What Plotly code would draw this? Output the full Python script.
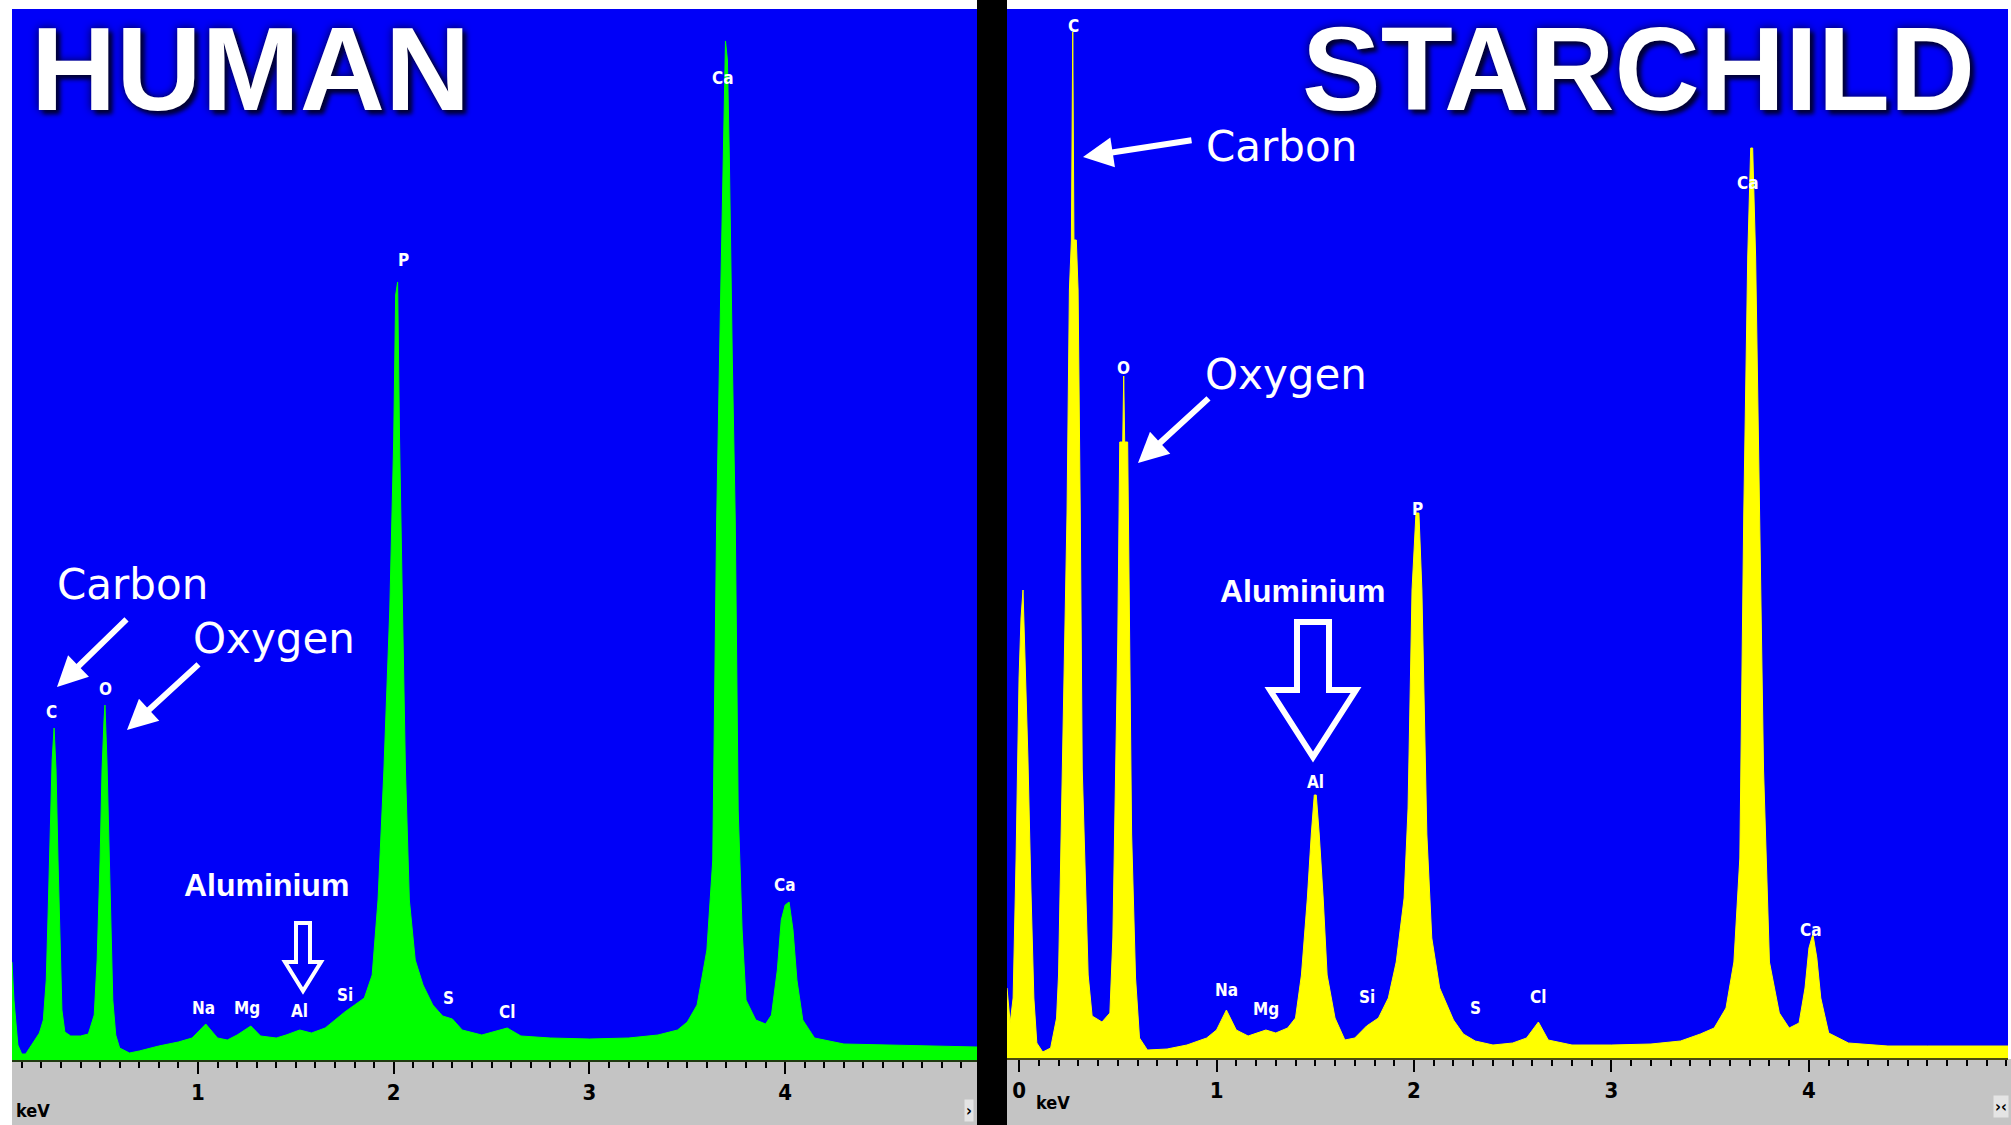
import plotly.graph_objects as go

# ---------------- data ----------------
# HUMAN spectrum (energy keV, counts)
HUMAN_KEV = [0.05, 0.06, 0.08, 0.10, 0.12, 0.15, 0.19, 0.21, 0.225, 0.235, 0.245, 0.255, 0.265, 0.275,
             0.285, 0.295, 0.305, 0.32, 0.35, 0.40, 0.44, 0.47, 0.485, 0.50, 0.51, 0.52, 0.525, 0.535,
             0.545, 0.555, 0.565, 0.58, 0.60, 0.65, 0.70, 0.80, 0.90, 0.97, 1.04, 1.10, 1.15, 1.20,
             1.27, 1.32, 1.40, 1.45, 1.52, 1.58, 1.65, 1.70, 1.75, 1.80, 1.85, 1.89, 1.92, 1.95, 1.98,
             2.00, 2.01, 2.02, 2.03, 2.045, 2.06, 2.08, 2.11, 2.15, 2.20, 2.25, 2.30, 2.35, 2.45, 2.58,
             2.65, 2.80, 3.00, 3.20, 3.35, 3.45, 3.50, 3.55, 3.60, 3.63, 3.65, 3.67, 3.685, 3.695, 3.705,
             3.715, 3.73, 3.745, 3.76, 3.78, 3.80, 3.85, 3.90, 3.93, 3.96, 3.98, 4.00, 4.02, 4.04, 4.06,
             4.09, 4.15, 4.30, 4.50, 4.70, 4.98]
HUMAN_COUNTS = [98, 60, 15, 6, 6, 15, 27, 40, 80, 150, 240, 300, 332, 290,
                200, 110, 50, 28, 24, 24, 26, 45, 100, 200, 290, 340, 355, 300,
                210, 120, 60, 25, 12, 7, 9, 14, 18, 22, 36, 22, 20, 25,
                34, 24, 22, 25, 30, 27, 32, 40, 48, 55, 62, 85, 160, 290, 450,
                620, 765, 778, 620, 450, 290, 160, 100, 75, 55, 44, 41, 30, 25, 32,
                24, 22, 21, 22, 25, 30, 38, 55, 110, 200, 540, 760, 930, 1019, 1000,
                900, 700, 540, 250, 130, 60, 40, 36, 45, 90, 140, 155, 158, 130, 80,
                40, 22, 16, 15, 14, 13]

# STARCHILD spectrum (energy keV, counts)
STAR_KEV = [-0.061, -0.045, -0.03, -0.015, 0.0, 0.01, 0.02, 0.03, 0.045, 0.06, 0.075, 0.09, 0.12, 0.16,
            0.19, 0.20, 0.22, 0.243, 0.255, 0.265, 0.272, 0.278, 0.29, 0.299, 0.31, 0.32, 0.35, 0.37,
            0.42, 0.46, 0.475, 0.485, 0.50, 0.51, 0.525, 0.53, 0.535, 0.55, 0.56, 0.57, 0.59, 0.61,
            0.65, 0.75, 0.85, 0.95, 1.00, 1.05, 1.10, 1.16, 1.25, 1.30, 1.36, 1.40, 1.43, 1.46, 1.48,
            1.495, 1.505, 1.52, 1.54, 1.56, 1.60, 1.65, 1.70, 1.76, 1.82, 1.87, 1.91, 1.95, 1.97, 1.98,
            1.99, 2.01, 2.025, 2.04, 2.05, 2.065, 2.09, 2.13, 2.20, 2.25, 2.31, 2.40, 2.50, 2.57, 2.63,
            2.68, 2.80, 3.00, 3.20, 3.35, 3.45, 3.52, 3.58, 3.62, 3.65, 3.67, 3.69, 3.705, 3.715, 3.73,
            3.75, 3.77, 3.80, 3.85, 3.90, 3.95, 3.98, 4.00, 4.02, 4.04, 4.06, 4.10, 4.20, 4.40, 4.60,
            4.80, 5.008]
STAR_COUNTS = [70, 35, 60, 200, 380, 440, 468, 400, 300, 170, 60, 15, 6, 10,
               40, 83, 290, 545, 768, 818, 1026, 818, 818, 768, 545, 289, 83, 42,
               36, 45, 120, 224, 417, 616, 616, 682, 616, 616, 417, 224, 80, 20,
               8, 9, 13, 20, 28, 48, 28, 22, 28, 25, 30, 40, 83, 160, 224,
               263, 263, 224, 160, 83, 40, 18, 20, 32, 40, 60, 96, 160, 250, 353,
               468, 545, 545, 468, 353, 224, 120, 70, 38, 24, 17, 13, 15, 20, 36,
               18, 13, 13, 14, 17, 24, 30, 50, 96, 200, 545, 801, 910, 910, 801,
               545, 289, 96, 45, 30, 35, 70, 110, 124, 100, 60, 25, 15, 12, 12,
               12, 12]

# element labels: (text, keV)
HUMAN_ELEMENTS = ["C", "O", "Na", "Mg", "Al", "Si", "P", "S", "Cl", "Ca", "Ca"]
HUMAN_ELEM_KEV = [0.25, 0.53, 1.03, 1.25, 1.52, 1.75, 2.05, 2.28, 2.58, 3.68, 4.00]
STAR_ELEMENTS = ["C", "O", "Na", "Mg", "Al", "Si", "P", "S", "Cl", "Ca", "Ca"]
STAR_ELEM_KEV = [0.275, 0.53, 1.05, 1.25, 1.50, 1.76, 2.02, 2.31, 2.63, 3.69, 4.01]

HUMAN_TICKS = [1, 2, 3, 4]
STAR_TICKS = [0, 1, 2, 3, 4]

# label placement heights (layout, not data)
HUMAN_LABEL_Y = [348, 371, 52, 52, 49, 65, 800, 62, 48, 982, 175]
STAR_LABEL_Y = [1032, 690, 68, 49, 276, 61, 549, 50, 61, 875, 128]

# ---------------- layout helpers ----------------
W, H = 2011, 1125


def fx(x):
    return x / W


def fy(y):
    return 1 - y / H


BLUE = "#0000F8"
GREEN = "#00FF00"
YELLOW = "#FFFF00"
GRAY = "#C4C4C4"
COND = "DejaVu Sans Condensed, Liberation Sans Narrow, DejaVu Sans, sans-serif"

fig = go.Figure()
fig.add_trace(go.Scatter(x=HUMAN_KEV, y=HUMAN_COUNTS, mode="lines", fill="tozeroy",
                         fillcolor=GREEN, line=dict(color=GREEN, width=1),
                         xaxis="x", yaxis="y", hoverinfo="skip", showlegend=False))
fig.add_trace(go.Scatter(x=STAR_KEV, y=STAR_COUNTS, mode="lines", fill="tozeroy",
                         fillcolor=YELLOW, line=dict(color=YELLOW, width=1),
                         xaxis="x2", yaxis="y2", hoverinfo="skip", showlegend=False))

tickfont = dict(family=COND, size=22, color="black", weight="bold")
minor = dict(tickmode="linear", tick0=0, dtick=0.1, ticks="outside", ticklen=6,
             tickwidth=2, tickcolor="black", showgrid=False)

fig.update_layout(
    template="none",
    width=W, height=H,
    margin=dict(l=0, r=0, t=0, b=0, pad=0, autoexpand=False),
    paper_bgcolor="white",
    plot_bgcolor=BLUE,
    showlegend=False,
    xaxis=dict(domain=[fx(12), fx(977)], range=[0.05, 4.98], anchor="y", automargin=False,
               tickmode="array", tickvals=HUMAN_TICKS, ticktext=[str(t) for t in HUMAN_TICKS],
               ticks="outside", ticklen=12, tickwidth=2, tickcolor="black",
               showline=True, linecolor="#1f3a10", linewidth=2, showgrid=False, zeroline=False,
               tickfont=tickfont, minor=minor, fixedrange=True),
    yaxis=dict(domain=[fy(1060), fy(9)], range=[0, 1051], visible=False, fixedrange=True,
               automargin=False),
    xaxis2=dict(domain=[fx(1007), fx(2008)], range=[-0.061, 5.008], anchor="y2", automargin=False,
                tickmode="array", tickvals=STAR_TICKS, ticktext=[str(t) for t in STAR_TICKS],
                ticks="outside", ticklen=12, tickwidth=2, tickcolor="black",
                showline=True, linecolor="#4a4a10", linewidth=2, showgrid=False, zeroline=False,
                tickfont=tickfont, minor=minor, fixedrange=True),
    yaxis2=dict(domain=[fy(1058), fy(9)], range=[0, 1049], visible=False, fixedrange=True,
                automargin=False),
)

shapes = [
    dict(type="rect", xref="paper", yref="paper", x0=fx(12), x1=fx(977), y0=0, y1=fy(1061),
         fillcolor=GRAY, line=dict(width=0), layer="below"),
    dict(type="rect", xref="paper", yref="paper", x0=fx(1007), x1=1, y0=0, y1=fy(1059),
         fillcolor=GRAY, line=dict(width=0), layer="below"),
    dict(type="rect", xref="paper", yref="paper", x0=fx(977), x1=fx(1007), y0=0, y1=1,
         fillcolor="black", line=dict(width=0), layer="above"),
]


def hollow_arrow(pts, width):
    path = "M " + " L ".join(f"{fx(x):.5f},{fy(y):.5f}" for x, y in pts) + " Z"
    return dict(type="path", xref="paper", yref="paper", path=path,
                line=dict(color="white", width=width), fillcolor="rgba(0,0,0,0)", layer="above")


shapes.append(hollow_arrow([(296, 923), (310, 923), (310, 962), (321, 962), (303, 991),
                            (285, 962), (296, 962)], 4))
shapes.append(hollow_arrow([(1297, 622), (1329, 622), (1329, 690), (1356, 690), (1313, 757),
                            (1270, 690), (1297, 690)], 6))
fig.update_layout(shapes=shapes)

ann = []
title_font = dict(family="Liberation Sans, Arial, sans-serif", size=118, color="white",
                  weight="bold", shadow="0px 0px 8px #000040, 4px 4px 4px #000030")
ann.append(dict(text="HUMAN", xref="paper", yref="paper", x=fx(30), y=1, yshift=-2,
                xanchor="left", yanchor="top", showarrow=False, font=title_font, borderpad=0))
ann.append(dict(text="STARCHILD", xref="paper", yref="paper", x=fx(1976), y=1, yshift=-2,
                xanchor="right", yanchor="top", showarrow=False, font=title_font, borderpad=0))

lab_font = dict(family="DejaVu Sans, sans-serif", size=42, color="white")
for txt, cx, cy in [("Carbon", 132, 584), ("Oxygen", 274, 638),
                    ("Carbon", 1281, 146), ("Oxygen", 1286, 375)]:
    ann.append(dict(text=txt, xref="paper", yref="paper", x=fx(cx), y=fy(cy),
                    xanchor="center", yanchor="middle", showarrow=False, font=lab_font))

for hx, hy, tx, ty in [(57, 687, 128, 618), (127, 730, 200, 663),
                       (1083, 157, 1193, 140), (1138, 463, 1210, 397)]:
    ann.append(dict(text="", xref="paper", yref="paper", x=fx(hx), y=fy(hy),
                    ax=tx - hx, ay=ty - hy, showarrow=True, arrowhead=2, arrowsize=1,
                    arrowwidth=6, arrowcolor="white", standoff=0))

al_font = dict(family="Liberation Sans, Arial, sans-serif", size=32, color="white", weight="bold")
ann.append(dict(text="Aluminium", xref="paper", yref="paper", x=fx(266), y=fy(885),
                xanchor="center", yanchor="middle", showarrow=False, font=al_font))
ann.append(dict(text="Aluminium", xref="paper", yref="paper", x=fx(1302), y=fy(591),
                xanchor="center", yanchor="middle", showarrow=False, font=al_font))

el_font = dict(family=COND, size=17, color="white", weight="bold")
for t, k, yy in zip(HUMAN_ELEMENTS, HUMAN_ELEM_KEV, HUMAN_LABEL_Y):
    ann.append(dict(text=t, xref="x", yref="y", x=k, y=yy, showarrow=False,
                    xanchor="center", yanchor="middle", font=el_font))
for t, k, yy in zip(STAR_ELEMENTS, STAR_ELEM_KEV, STAR_LABEL_Y):
    ann.append(dict(text=t, xref="x2", yref="y2", x=k, y=yy, showarrow=False,
                    xanchor="center", yanchor="middle", font=el_font))

kev_font = dict(family=COND, size=18, color="black", weight="bold")
ann.append(dict(text="keV", xref="paper", yref="paper", x=fx(14), y=fy(1110),
                xanchor="left", yanchor="middle", showarrow=False, font=kev_font))
ann.append(dict(text="keV", xref="paper", yref="paper", x=fx(1034), y=fy(1102),
                xanchor="left", yanchor="middle", showarrow=False, font=kev_font))
btn_font = dict(family=COND, size=16, color="black", weight="bold")
ann.append(dict(text="›", xref="paper", yref="paper", x=fx(974), y=fy(1110),
                xanchor="right", yanchor="middle", showarrow=False, font=btn_font,
                bgcolor="#E4E4E4", borderpad=1))
ann.append(dict(text="›‹", xref="paper", yref="paper", x=fx(2009), y=fy(1106),
                xanchor="right", yanchor="middle", showarrow=False, font=btn_font,
                bgcolor="#E4E4E4", borderpad=1))

fig.update_layout(annotations=ann)
fig.write_html("out.html", config={"displayModeBar": False},
               post_script="document.body.style.margin='0';document.body.style.overflow='hidden';")
